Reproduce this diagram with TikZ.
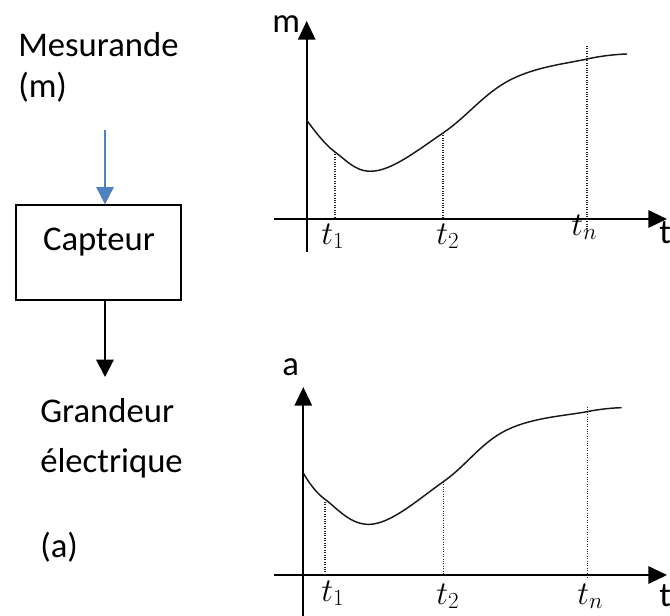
\documentclass[tikz,border=0pt]{standalone}
\usepackage{fontspec}
\setmainfont{Carlito}
\usetikzlibrary{arrows.meta}
\definecolor{arrowblue}{RGB}{79,129,189}
\tikzset{
  lbl/.style={inner sep=0pt, font=\fontsize{26}{30}\selectfont, anchor=base west},
  mlbl/.style={inner sep=0pt, font=\fontsize{25}{29}\selectfont, anchor=base west},
  axis/.style={line width=1.5pt, -{Triangle[length=14pt,width=13pt]}},
  flow/.style={line width=1.5pt, -{Triangle[length=13pt,width=13pt]}},
  curve/.style={line width=1.1pt, black!90},
  guide/.style={line width=0.8pt, densely dotted, black!85},
  boxst/.style={draw, line width=1.2pt, minimum width=124pt, minimum height=71pt, inner sep=0pt}
}
\begin{document}
\begin{tikzpicture}[x=0.75pt,y=-0.75pt]
\useasboundingbox (0,0) rectangle (670,615);
% left column
\node[lbl] (mes) at (18,56) {Mesurande};
\node[lbl] (msym) at (18,97) {(m)};
\node[boxst] (box) at (98.5,252.5) {};
\node[inner sep=0pt, font=\fontsize{26}{30}\selectfont, anchor=base] (capt) at (99,250) {Capteur};
\coordinate (bluestart) at (105,130);
\draw[flow, arrowblue] (bluestart) -- (box.north -| bluestart);
\coordinate (blackend) at (105,377);
\draw[flow] (box.south -| blackend) -- (blackend);
\node[lbl] (gr) at (40,422) {Grandeur};
\node[lbl] (el) at (40,472) {électrique};
\node[lbl] (asym) at (40,557) {(a)};
% top graph
\coordinate (ybot1) at (306.7,252);
\coordinate (ytop1) at (306.7,21);
\coordinate (xl1) at (274,219);
\coordinate (xr1) at (667,219);
\draw[axis] (ybot1) -- (ytop1);
\draw[axis] (xl1) -- (xr1);
\node[lbl] (mlab) at (272,32) {m};
\node[lbl] (tlab1) at (659,243) {t};
\coordinate (c1a) at (335,152);
\coordinate (c1b) at (443,133);
\draw[curve] plot[smooth, tension=0.65] coordinates {(306.7,120) (335,152) (376.7,170.7) (443,133) (510,80) (587,59) (627,54)};
\coordinate (f1a) at (335,219);
\coordinate (f1b) at (443,219);
\coordinate (g1c) at (587,46);
\coordinate (f1c) at (587,230);
\draw[guide] (c1a) -- (f1a);
\draw[guide] (c1b) -- (f1b);
\draw[guide] (g1c) -- (f1c);
\node[mlbl] (t11) at (321,244) {$t_1$};
\node[mlbl] (t12) at (436,244) {$t_2$};
\node[mlbl] (t1n) at (571,235) {$t_n$};
% bottom graph
\coordinate (ybot2) at (303.3,620);
\coordinate (ytop2) at (303.3,387);
\coordinate (xl2) at (274,575);
\coordinate (xr2) at (667,575);
\draw[axis] (ybot2) -- (ytop2);
\draw[axis] (xl2) -- (xr2);
\node[lbl] (alab) at (282,375) {a};
\node[lbl] (tlab2) at (659,606) {t};
\coordinate (c2a) at (325,499.3);
\coordinate (c2b) at (443.3,481.7);
\coordinate (c2c) at (587.7,407);
\draw[curve] plot[smooth, tension=0.65] coordinates {(303.3,473) (325,499.3) (373.3,524) (443.3,481.7) (506.7,430) (586.7,411.7) (621.7,407.7)};
\coordinate (f2a) at (325,575);
\coordinate (f2b) at (443.3,575);
\coordinate (f2c) at (587.7,578);
\draw[guide] (c2a) -- (f2a);
\draw[guide] (c2b) -- (f2b);
\draw[guide] (c2c) -- (f2c);
\node[mlbl] (t21) at (321,601) {$t_1$};
\node[mlbl] (t22) at (436,604) {$t_2$};
\node[mlbl] (t2n) at (577,604) {$t_n$};
\end{tikzpicture}
\end{document}
